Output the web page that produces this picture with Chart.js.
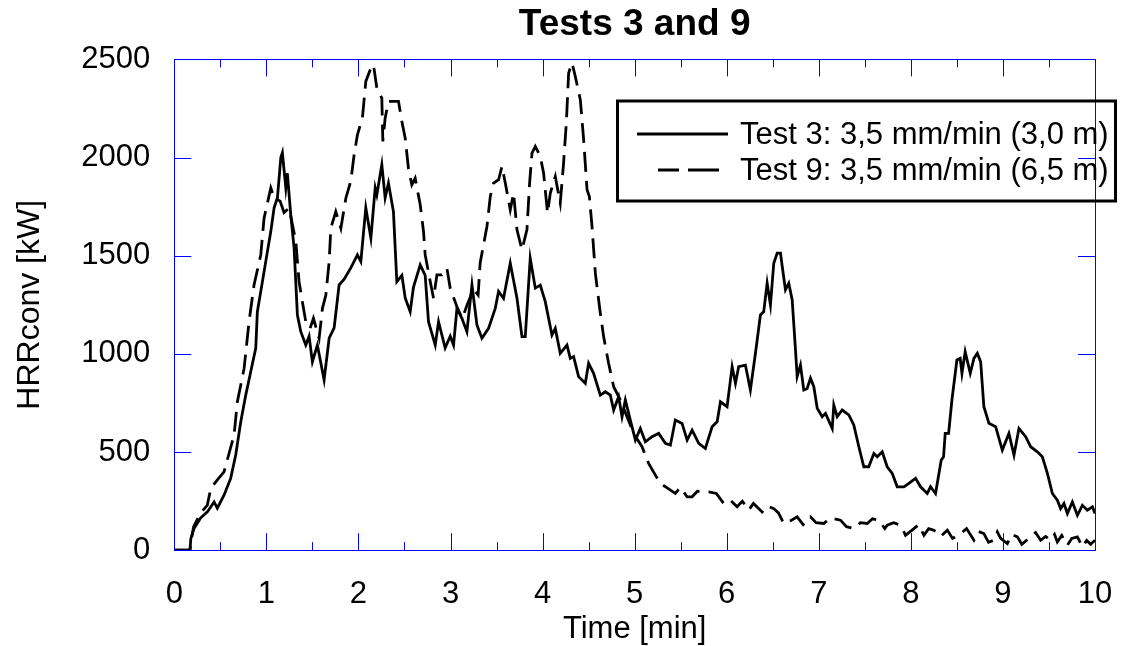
<!DOCTYPE html>
<html>
<head>
<meta charset="utf-8">
<script src="https://cdn.jsdelivr.net/npm/chart.js@4/dist/chart.umd.min.js"></script>
<style>
  html, body { margin: 0; padding: 0; background: #fff; }
  #c { display: block; }
</style>
</head>
<body>
<canvas id="c" width="1129" height="646"></canvas>
<script>
// ---- data ----
const chartTitle = 'Tests 3 and 9';
const xTitle = 'Time [min]';
const yTitle = 'HRRconv [kW]';
const series3Label = 'Test 3: 3,5 mm/min (3,0 m)';
const series9Label = 'Test 9: 3,5 mm/min (6,5 m)';

const xTicks = [0, 1, 2, 3, 4, 5, 6, 7, 8, 9, 10];
const yTicks = [0, 500, 1000, 1500, 2000, 2500];

const test3Time = [0, 0.15, 0.17, 0.18, 0.214, 0.287, 0.359, 0.432, 0.467, 0.54, 0.613, 0.667, 0.722, 0.776, 0.83, 0.885, 0.902, 0.957, 0.993, 1.048, 1.084, 1.12, 1.157, 1.174, 1.211, 1.228, 1.265, 1.301, 1.337, 1.374, 1.428, 1.464, 1.5, 1.554, 1.627, 1.682, 1.736, 1.79, 1.845, 1.917, 1.989, 2.026, 2.08, 2.135, 2.182, 2.2, 2.254, 2.29, 2.326, 2.38, 2.417, 2.472, 2.508, 2.562, 2.598, 2.671, 2.725, 2.761, 2.834, 2.87, 2.942, 2.997, 3.033, 3.07, 3.124, 3.178, 3.233, 3.287, 3.341, 3.413, 3.486, 3.522, 3.576, 3.649, 3.722, 3.776, 3.812, 3.866, 3.921, 3.975, 4.029, 4.102, 4.138, 4.192, 4.265, 4.301, 4.337, 4.391, 4.464, 4.5, 4.554, 4.627, 4.682, 4.736, 4.772, 4.826, 4.863, 4.899, 4.953, 5.008, 5.062, 5.116, 5.189, 5.261, 5.334, 5.388, 5.442, 5.515, 5.57, 5.624, 5.696, 5.768, 5.841, 5.896, 5.932, 6.004, 6.059, 6.095, 6.13, 6.203, 6.257, 6.312, 6.366, 6.402, 6.439, 6.475, 6.511, 6.548, 6.584, 6.603, 6.638, 6.674, 6.711, 6.747, 6.765, 6.801, 6.837, 6.874, 6.91, 6.946, 6.983, 7.037, 7.073, 7.146, 7.163, 7.2, 7.254, 7.326, 7.38, 7.435, 7.489, 7.543, 7.598, 7.635, 7.689, 7.743, 7.798, 7.852, 7.924, 7.978, 8.051, 8.105, 8.178, 8.214, 8.268, 8.33, 8.355, 8.373, 8.41, 8.446, 8.5, 8.536, 8.555, 8.59, 8.645, 8.685, 8.722, 8.758, 8.793, 8.848, 8.921, 8.993, 9.065, 9.12, 9.174, 9.247, 9.301, 9.374, 9.428, 9.483, 9.537, 9.591, 9.627, 9.663, 9.7, 9.754, 9.809, 9.863, 9.917, 9.972, 10.0];
const test3HRR = [0, 0, 0, 60, 110, 165, 195, 246, 214, 280, 367, 485, 654, 790, 909, 1030, 1215, 1368, 1470, 1623, 1744, 1795, 2000, 2025, 1846, 1920, 1708, 1540, 1198, 1113, 1045, 1090, 960, 1045, 867, 1080, 1132, 1351, 1380, 1438, 1504, 1470, 1744, 1590, 1846, 1810, 1964, 1795, 1870, 1725, 1368, 1400, 1285, 1215, 1340, 1453, 1400, 1164, 1045, 1164, 1030, 1090, 1045, 1232, 1181, 1113, 1351, 1147, 1080, 1130, 1232, 1318, 1283, 1462, 1283, 1088, 1088, 1487, 1335, 1350, 1266, 1096, 1130, 1003, 1045, 977, 986, 884, 850, 952, 901, 790, 807, 790, 714, 782, 680, 765, 663, 561, 620, 552, 578, 595, 544, 535, 663, 646, 561, 612, 544, 518, 629, 654, 756, 731, 935, 850, 935, 943, 816, 1003, 1198, 1215, 1360, 1250, 1462, 1513, 1513, 1445, 1326, 1360, 1275, 1020, 884, 943, 816, 824, 876, 833, 723, 680, 697, 620, 740, 680, 714, 689, 638, 527, 425, 425, 493, 476, 501, 425, 391, 323, 323, 340, 366, 323, 289, 323, 289, 459, 476, 595, 595, 765, 969, 977, 901, 1011, 901, 977, 1003, 960, 731, 646, 629, 510, 595, 484, 620, 578, 527, 501, 476, 391, 289, 255, 212, 238, 187, 246, 178, 229, 204, 221, 187];

const test9Time = [0, 0.15, 0.17, 0.18, 0.21, 0.287, 0.359, 0.396, 0.47, 0.54, 0.649, 0.685, 0.758, 0.812, 0.866, 0.939, 0.975, 1.048, 1.084, 1.149, 1.192, 1.247, 1.32, 1.355, 1.391, 1.428, 1.475, 1.511, 1.573, 1.609, 1.646, 1.682, 1.7, 1.754, 1.809, 1.863, 1.917, 1.953, 1.989, 2.043, 2.08, 2.135, 2.163, 2.2, 2.254, 2.265, 2.29, 2.326, 2.38, 2.435, 2.472, 2.508, 2.543, 2.58, 2.616, 2.671, 2.707, 2.725, 2.78, 2.816, 2.852, 2.907, 2.961, 2.997, 3.07, 3.127, 3.181, 3.25, 3.3, 3.322, 3.396, 3.432, 3.468, 3.522, 3.559, 3.595, 3.649, 3.685, 3.722, 3.776, 3.83, 3.859, 3.885, 3.921, 3.975, 4.011, 4.054, 4.084, 4.138, 4.192, 4.228, 4.258, 4.283, 4.32, 4.355, 4.41, 4.446, 4.483, 4.508, 4.537, 4.573, 4.627, 4.663, 4.717, 4.772, 4.845, 4.917, 4.989, 5.08, 5.152, 5.203, 5.279, 5.345, 5.442, 5.497, 5.57, 5.624, 5.682, 5.804, 5.888, 5.967, 6.04, 6.113, 6.17, 6.239, 6.29, 6.385, 6.442, 6.511, 6.562, 6.62, 6.693, 6.765, 6.83, 6.91, 6.97, 7.054, 7.127, 7.236, 7.3, 7.38, 7.453, 7.526, 7.584, 7.652, 7.717, 7.743, 7.812, 7.888, 7.942, 8.033, 8.084, 8.142, 8.193, 8.25, 8.323, 8.396, 8.453, 8.542, 8.605, 8.685, 8.736, 8.793, 8.844, 8.902, 8.939, 8.975, 9.048, 9.095, 9.157, 9.205, 9.301, 9.355, 9.41, 9.464, 9.518, 9.561, 9.591, 9.639, 9.7, 9.747, 9.809, 9.863, 9.91, 9.953, 10.0];
const test9HRR = [0, 0, 0, 40, 120, 190, 230, 315, 360, 399, 586, 756, 926, 1164, 1351, 1504, 1691, 1845, 1795, 1778, 1720, 1743, 1572, 1368, 1266, 1164, 1130, 1181, 1079, 1232, 1300, 1470, 1640, 1725, 1640, 1793, 1880, 2014, 2116, 2201, 2388, 2456, 2473, 2354, 2303, 2082, 2200, 2286, 2286, 2286, 2184, 2099, 1946, 1861, 1895, 1760, 1623, 1504, 1368, 1283, 1402, 1402, 1436, 1334, 1240, 1180, 1250, 1330, 1300, 1463, 1650, 1802, 1870, 1887, 1955, 1870, 1734, 1819, 1632, 1530, 1632, 1870, 2023, 2057, 2006, 1921, 1717, 1819, 1904, 1768, 1972, 2176, 2431, 2482, 2414, 2295, 2091, 1836, 1802, 1649, 1411, 1207, 1088, 952, 833, 765, 680, 595, 527, 442, 400, 340, 320, 289, 320, 272, 272, 300, 297, 289, 238, 255, 221, 250, 204, 238, 195, 225, 212, 190, 136, 150, 170, 130, 170, 140, 136, 165, 153, 120, 110, 140, 136, 160, 153, 110, 127, 140, 127, 76, 110, 130, 76, 110, 102, 70, 102, 60, 85, 110, 51, 95, 85, 40, 51, 93, 60, 34, 80, 68, 30, 68, 90, 51, 70, 51, 80, 42, 75, 25, 60, 68, 17, 50, 30, 51];

// ---- build points from the arrays ----
const pts = (ts, vs) => ts.map((t, i) => ({ x: t, y: vs[i] }));
const FONT = "'Liberation Sans', Arial, Helvetica, sans-serif";
const AXIS_BLUE = '#0000ff';
const TXT = 31;

const framePlugin = {
  id: 'frameAndLegend',
  afterDraw(chart) {
    const { ctx, chartArea: a, scales } = chart;
    const xs = scales.x, ys = scales.y;
    ctx.save();
    // plot frame
    ctx.strokeStyle = AXIS_BLUE;
    ctx.lineWidth = 1;
    ctx.strokeRect(Math.round(a.left) + 0.5, Math.round(a.top) + 0.5,
                   Math.round(a.right - a.left), Math.round(a.bottom - a.top));
    // inside ticks
    ctx.beginPath();
    const major = 17, minor = 8;
    for (let i = 0; i < xTicks.length - 1; i++) {
      const v = xTicks[i];
      if (i > 0) {
        const px = Math.round(xs.getPixelForValue(v)) + 0.5;
        ctx.moveTo(px, a.bottom); ctx.lineTo(px, a.bottom - major);
        ctx.moveTo(px, a.top); ctx.lineTo(px, a.top + major);
      }
      const half = (xTicks[i] + xTicks[i + 1]) / 2;
      const ph = Math.round(xs.getPixelForValue(half)) + 0.5;
      ctx.moveTo(ph, a.bottom); ctx.lineTo(ph, a.bottom - minor);
      ctx.moveTo(ph, a.top); ctx.lineTo(ph, a.top + minor);
    }
    for (let i = 1; i < yTicks.length - 1; i++) {
      const py = Math.round(ys.getPixelForValue(yTicks[i])) + 0.5;
      ctx.moveTo(a.left, py); ctx.lineTo(a.left + major, py);
      ctx.moveTo(a.right, py); ctx.lineTo(a.right - major, py);
    }
    ctx.stroke();

    // legend box
    const ds = chart.data.datasets;
    ctx.strokeStyle = '#000';
    ctx.lineWidth = 3;
    ctx.strokeRect(617.5, 101, 498, 100);
    ctx.font = TXT + 'px ' + FONT;
    ctx.fillStyle = '#000';
    ctx.textBaseline = 'middle';
    ctx.textAlign = 'left';
    // row 1 (solid)
    ctx.lineWidth = ds[0].borderWidth;
    ctx.setLineDash([]);
    ctx.beginPath(); ctx.moveTo(637, 134); ctx.lineTo(728, 134); ctx.stroke();
    ctx.fillText(ds[0].label, 740, 135);
    // row 2 (dashed)
    ctx.lineWidth = ds[1].borderWidth;
    ctx.beginPath();
    ctx.moveTo(658, 170); ctx.lineTo(679, 170);
    ctx.moveTo(688, 170); ctx.lineTo(719, 170);
    ctx.stroke();
    ctx.fillText(ds[1].label, 740, 171);
    ctx.restore();
  }
};

new Chart(document.getElementById('c'), {
  type: 'line',
  data: {
    datasets: [
      { label: series3Label, data: pts(test3Time, test3HRR), borderColor: '#000', borderWidth: 2.8,
        pointRadius: 0, tension: 0, fill: false },
      { label: series9Label, data: pts(test9Time, test9HRR), borderColor: '#000', borderWidth: 2.8,
        borderDash: [20, 9], pointRadius: 0, tension: 0, fill: false }
    ]
  },
  options: {
    responsive: false,
    animation: false,
    devicePixelRatio: 1,
    layout: { padding: { left: 0, right: 34, top: 0, bottom: 0 } },
    plugins: {
      legend: { display: false },
      tooltip: { enabled: false },
      title: {
        display: true, fullSize: false, text: chartTitle, color: '#000',
        font: { family: FONT, size: 37, weight: 'bold', lineHeight: 1.2 },
        padding: { top: 3, bottom: 12 }
      }
    },
    scales: {
      x: {
        type: 'linear', min: 0, max: 10,
        afterFit(s) { s.height = 95.8; s.paddingLeft = 0; s.paddingRight = 0; },
        afterBuildTicks(s) { s.ticks = xTicks.map(v => ({ value: v })); },
        grid: { display: false, drawTicks: false },
        border: { display: false },
        ticks: { padding: 26, color: '#000', maxRotation: 0, font: { family: FONT, size: TXT },
                 callback: v => String(v) },
        title: { display: true, text: xTitle, color: '#000',
                 font: { family: FONT, size: TXT, lineHeight: 1.0 }, padding: { top: 0, bottom: 1 } }
      },
      y: {
        type: 'linear', min: 0, max: 2500,
        afterFit(s) { s.width = 174.3; s.paddingTop = 0; s.paddingBottom = 0; },
        afterBuildTicks(s) { s.ticks = yTicks.map(v => ({ value: v })); },
        grid: { display: false, drawTicks: false },
        border: { display: false },
        ticks: { padding: 24, color: '#000', font: { family: FONT, size: TXT },
                 callback: v => String(v) },
        title: { display: true, text: yTitle, color: '#000',
                 font: { family: FONT, size: 32, lineHeight: 1.2 }, padding: { top: 11, bottom: 0 } }
      }
    }
  },
  plugins: [framePlugin]
});
</script>
</body>
</html>
